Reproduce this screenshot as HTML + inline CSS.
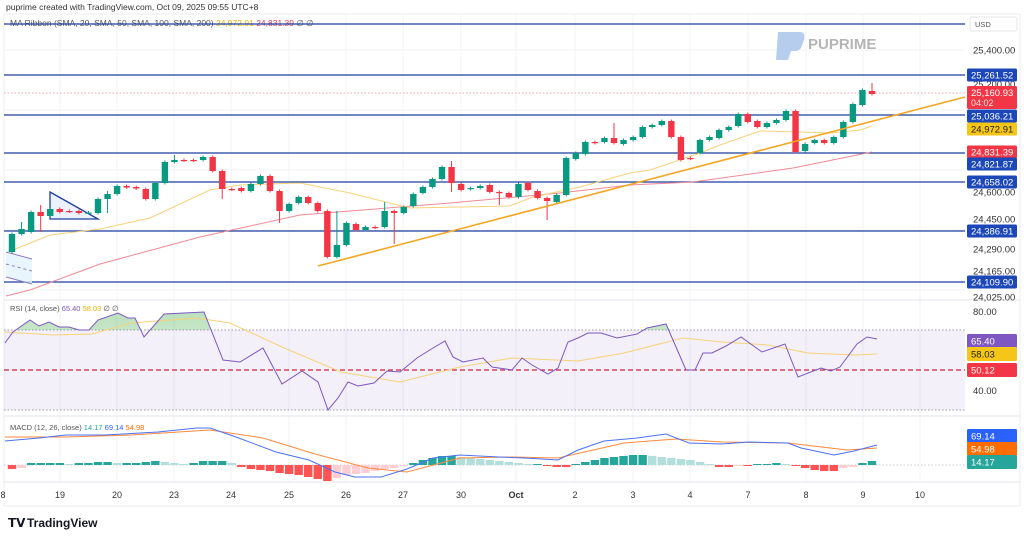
<!DOCTYPE html>
<html><head><meta charset="utf-8">
<style>
html,body{margin:0;padding:0;background:#fff;}
body{width:1024px;height:539px;overflow:hidden;font-family:"Liberation Sans",sans-serif;}
svg text{font-family:"Liberation Sans",sans-serif;}
</style></head>
<body>
<svg id="c" width="1024" height="539" xmlns="http://www.w3.org/2000/svg"></svg>
<script>
const S=document.getElementById('c');let h='';
const G='#089981',R='#f23645';
h+='<rect x="4" y="14" width="1016" height="492" fill="none" stroke="#e9ecf2"/>';
const dx=[60,117,174,231,289,346,403,461,516,575,633,690,748,806,863,920],dl=['19','20','23','24','25','26','27','30','Oct','2','3','4','7','8','9','10'];
dx.forEach(x=>h+=`<line x1="${x}" y1="14" x2="${x}" y2="482" stroke="#f1f3f7"/>`);
[50,110,170,230,290].forEach(y=>h+=`<line x1="4" y1="${y}" x2="965" y2="${y}" stroke="#f1f3f7"/>`);
h+='<line x1="4" y1="300" x2="1020" y2="300" stroke="#e3e6ec"/><line x1="4" y1="416" x2="1020" y2="416" stroke="#e3e6ec"/><line x1="4" y1="482" x2="1020" y2="482" stroke="#e3e6ec"/>';
h+='<text x="6" y="10" font-size="8.5" fill="#333">puprime created with TradingView.com, Oct 09, 2025 09:55 UTC+8</text>';
h+='<text x="10" y="26" font-size="8.5" fill="#555">MA Ribbon (SMA, 20, SMA, 50, SMA, 100, SMA, 200) <tspan fill="#e8b400">24,972.91</tspan> <tspan fill="#e0405a">24,831.39</tspan> ∅ ∅</text>';
h+='<path d="M778 32 L800 32 Q806 32 804 40 L801 48 Q799 51 795 51 L791 51 L788 60 L776 60 Z" fill="#b7cdee"/><text x="808" y="49" font-size="15" font-weight="bold" fill="#b5b5b5">PUPRIME</text>';
[24,75,115,153,182,231,282].forEach(y=>h+=`<line x1="4" y1="${y}" x2="965" y2="${y}" stroke="#1c3f9e" stroke-width="1.3"/>`);
h+='<line x1="4" y1="93" x2="965" y2="93" stroke="#f5a0a8" stroke-dasharray="1.5,2"/>';
function pl(p,c,w,ex=''){return `<polyline points="${p.map(a=>a.join(',')).join(' ')}" fill="none" stroke="${c}" stroke-width="${w}" ${ex}/>`;}
h+='<polygon points="6,252 32,259 32,284 6,277" fill="#e3f2fd" opacity=".8"/>';
h+=pl([[6,252],[32,259]],'#8e7cc3',1)+pl([[6,277],[32,284]],'#8e7cc3',1)+pl([[6,264],[32,271]],'#8e7cc3',1,'stroke-dasharray="3,3"');
h+='<polygon points="50,192 98,219 50,219" fill="#dde9f8" fill-opacity=".6" stroke="#1c3f9e" stroke-width="1.3"/>';
h+=pl([[6,296],[30,290],[100,264],[200,237],[300,215],[350,211],[450,203],[560,193],[630,185],[693,182],[793,168],[872,152]],'#ef8a95',1);
h+=pl([[8,252],[50,235],[100,229],[150,218],[210,190],[240,185],[300,183],[350,193],[410,208],[510,206],[533,197],[580,187],[630,173],[650,170],[700,153],[720,145],[760,131],[800,132],[830,133],[860,130],[872,126]],'#f7d27a',1);
const C=[[252,234],[234,229,222],[232,212],[212,216,205,232],[216,209],[209,212],[211,211.5],[211,213],[213,212.5],[213,199],[199,194,191,213],[194,186],[186,187.5],[187,188.5],[189,199],[199,183],[183,162],[162,160,155],[160,160.5],[160,160.5],[160,157],[157,171],[171,189,171,199],[189,189.5],[188,191],[191,184],[184,176],[176,191],[191,211,191,223],[211,204],[203,197],[197,203],[203,211],[211,257],[257,245,211],[245,223],[224,230],[230,227],[227,227.5],[227,211,202],[211,213,211,244],[213,207],[206,194],[193,187],[187,179],[179,167],[167,183,161,192],[184,190],[189,188],[188,186],[185,192],[192,193,192,205],[193,197],[197,184],[183,190],[191,198],[198,201,198,220],[202,195],[195,158],[159,153],[154,142],[142,143],[142,138],[138,143,123],[144,140],[140,137],[137,127],[127,125],[125,121],[121,137],[137,160],[158,158.5],[153,140],[140,137],[138,130],[130,127],[126,114],[114,122],[121,127],[127,123],[123,120],[120,111],[111,152],[151,144],[143,140],[140,143],[143,137],[137,122],[122,104],[105,90],[91,94,83]];
const X0=12,DX=(872-12)/(C.length-1);
C.forEach((c,i)=>{const x=X0+i*DX,o=c[0],cl=c[1],col=cl<=o?G:R;const t=Math.min(o,cl),b=Math.max(o,cl);const hi=c[2]!==undefined?Math.min(c[2],t-1.5):t-1.5,lo=c[3]!==undefined?c[3]:b+1.5;
h+=`<line x1="${x}" y1="${hi}" x2="${x}" y2="${lo}" stroke="${col}"/><rect x="${x-3.2}" y="${t}" width="6.4" height="${Math.max(b-t,1.2)}" fill="${col}"/>`;});
h+=pl([[318,266],[965,97]],'#f5a623',1.6);
h+='<rect x="4" y="330" width="961" height="80" fill="#7e57c2" fill-opacity=".09"/>';
h+='<line x1="4" y1="330" x2="965" y2="330" stroke="#9a9aa8" stroke-dasharray="1.5,2"/><line x1="4" y1="410" x2="965" y2="410" stroke="#9a9aa8" stroke-dasharray="1.5,2"/>';
h+='<line x1="4" y1="370" x2="965" y2="370" stroke="#d1203a" stroke-dasharray="5,3" stroke-width="1.2"/>';
const rsi=[[5,343],[13,332],[30,320],[39,326],[49,322],[59,327],[69,327],[79,330],[89,330],[98,320],[118,313],[128,318],[135,318],[144,337],[164,314],[204,312],[223,360],[240,362],[263,348],[282,384],[302,371],[318,382],[328,410],[338,398],[348,382],[358,386],[374,383],[387,371],[400,372],[417,358],[433,348],[445,341],[453,357],[463,362],[483,358],[492,367],[512,370],[522,358],[532,365],[548,374],[558,368],[568,342],[578,338],[588,333],[601,333],[617,338],[637,334],[647,328],[666,324],[686,370],[695,370],[703,353],[712,353],[726,346],[741,337],[762,352],[785,344],[798,377],[821,368],[831,371],[840,367],[857,344],[867,337],[877,339]];
h+='<defs><clipPath id="ob"><rect x="0" y="0" width="1024" height="330"/></clipPath><linearGradient id="gg" x1="0" y1="0" x2="0" y2="1"><stop offset="0" stop-color="#66bb6a" stop-opacity=".45"/><stop offset="1" stop-color="#66bb6a" stop-opacity=".05"/></linearGradient></defs>';
h+=`<polygon clip-path="url(#ob)" points="5,330 ${rsi.map(a=>a.join(',')).join(' ')} 877,330" fill="url(#gg)"/>`;
h+=pl([[5,332],[53,335],[92,334],[131,323],[197,318],[230,323],[282,347],[341,372],[400,382],[460,367],[512,358],[578,361],[624,353],[683,338],[722,342],[768,345],[808,353],[854,355],[877,354]],'#f7d27a',1);
h+=pl(rsi,'#7e57c2',1);
h+='<text x="10" y="311" font-size="7.5" fill="#555">RSI (14, close) <tspan fill="#7e57c2">65.40</tspan> <tspan fill="#e8b400">58.03</tspan> ∅ ∅</text>';
h+='<line x1="4" y1="465" x2="965" y2="465" stroke="#ccc" stroke-dasharray="1.5,2"/>';
const hv=[-4,-3,2,2,2,2,1,2,2,3,3,2,2,2,3,4,3,2,1,2,4,4,4,2,-2,-4,-5,-6,-8,-9,-10,-12,-14,-16,-13,-10,-9,-8,-6,-4,-3,-1,2,5,7,9,9,8,7,6,5,4,3,2,1,1,-1,-2,-2,1,3,5,7,8,9,10,10,9,8,7,6,5,3,1,-2,-2,-1,-1,1,1,2,1,-1,-3,-5,-6,-6,-3,-2,2,4];
const HDX=(872-12)/(hv.length-1);
hv.forEach((v,i)=>{const x=X0+i*HDX,p=i?hv[i-1]:v;let col;if(v>=0)col=v>=p?'#26a69a':'#b2dfdb';else col=v<=p?'#ff5252':'#ffcdd2';const y=v>=0?465-v:465;h+=`<rect x="${x-4.2}" y="${y}" width="8.4" height="${Math.abs(v)||0.5}" fill="${col}"/>`;});
h+=pl([[5,437],[66,437],[131,435],[210,430],[263,438],[315,454],[368,468],[407,472],[460,458],[512,457],[558,458],[624,443],[676,439],[722,442],[788,443],[847,450],[877,448]],'#ff8a3d',1);
h+=pl([[5,441],[39,438],[66,435],[105,435],[158,432],[197,428],[210,428],[236,437],[276,452],[309,460],[335,472],[355,477],[381,477],[407,469],[433,458],[460,455],[499,457],[525,458],[558,460],[578,450],[604,441],[637,438],[666,434],[689,443],[722,444],[748,442],[788,443],[801,448],[834,455],[854,451],[877,445]],'#4a72f5',1);
h+='<text x="10" y="430" font-size="7.5" fill="#555">MACD (12, 26, close) <tspan fill="#26a69a">14.17</tspan> <tspan fill="#2962ff">69.14</tspan> <tspan fill="#ff6d00">54.98</tspan></text>';
dx.forEach((x,i)=>h+=`<text x="${x}" y="498" font-size="9" fill="#333" text-anchor="middle" ${dl[i]=='Oct'?'font-weight="bold"':''}>${dl[i]}</text>`);
h+='<text x="3" y="498" font-size="9" fill="#333" text-anchor="middle">8</text>';
h+='<rect x="970" y="17" width="47" height="14" rx="2" fill="#fff" stroke="#e6e6e6"/><text x="975" y="27" font-size="7.5" fill="#555">USD</text>';
[['25,400.00',50],['25,200.00',84],['24,600.00',192],['24,450.00',219],['24,290.00',249],['24,165.00',271],['24,025.00',297]].forEach(a=>h+=`<text x="973" y="${a[1]+3.5}" font-size="9.5" fill="#333">${a[0]}</text>`);
h+='<text x="973" y="315" font-size="9.5" fill="#333">80.00</text><text x="973" y="394" font-size="9.5" fill="#333">40.00</text>';
function lab(t,y,bg,fg='#fff',hh=13){h+=`<rect x="967" y="${y-hh/2}" width="50" height="${hh}" rx="1.5" fill="${bg}"/><text x="971" y="${y+3.5}" font-size="9.5" fill="${fg}">${t}</text>`;}
lab('25,261.52',75,'#1c47b8');
h+='<rect x="967" y="86" width="50" height="23" rx="1.5" fill="#f23645"/><text x="971" y="96" font-size="9.5" fill="#fff">25,160.93</text><text x="971" y="106" font-size="9" fill="#fde0e3">04:02</text>';
lab('25,036.21',116,'#1c47b8');lab('24,972.91',129,'#f5c518','#222');lab('24,831.39',152,'#f23645');lab('24,821.87',164,'#1c47b8');lab('24,658.02',182,'#1c47b8');lab('24,386.91',231,'#1c47b8');lab('24,109.90',282,'#1c47b8');
lab('65.40',341,'#7e57c2',undefined,14);lab('58.03',354,'#f5c518','#222',14);lab('50.12',370,'#f23645',undefined,14);
lab('69.14',436,'#2962ff',undefined,14);lab('54.98',449,'#ff6d00',undefined,14);lab('14.17',462,'#26a69a',undefined,14);
h+='<text x="8" y="527" font-size="12" font-weight="bold" fill="#131722">𝗧𝗩</text><text x="27" y="527" font-size="12" font-weight="bold" fill="#131722">TradingView</text>';
S.innerHTML=h;
</script>
</body></html>
